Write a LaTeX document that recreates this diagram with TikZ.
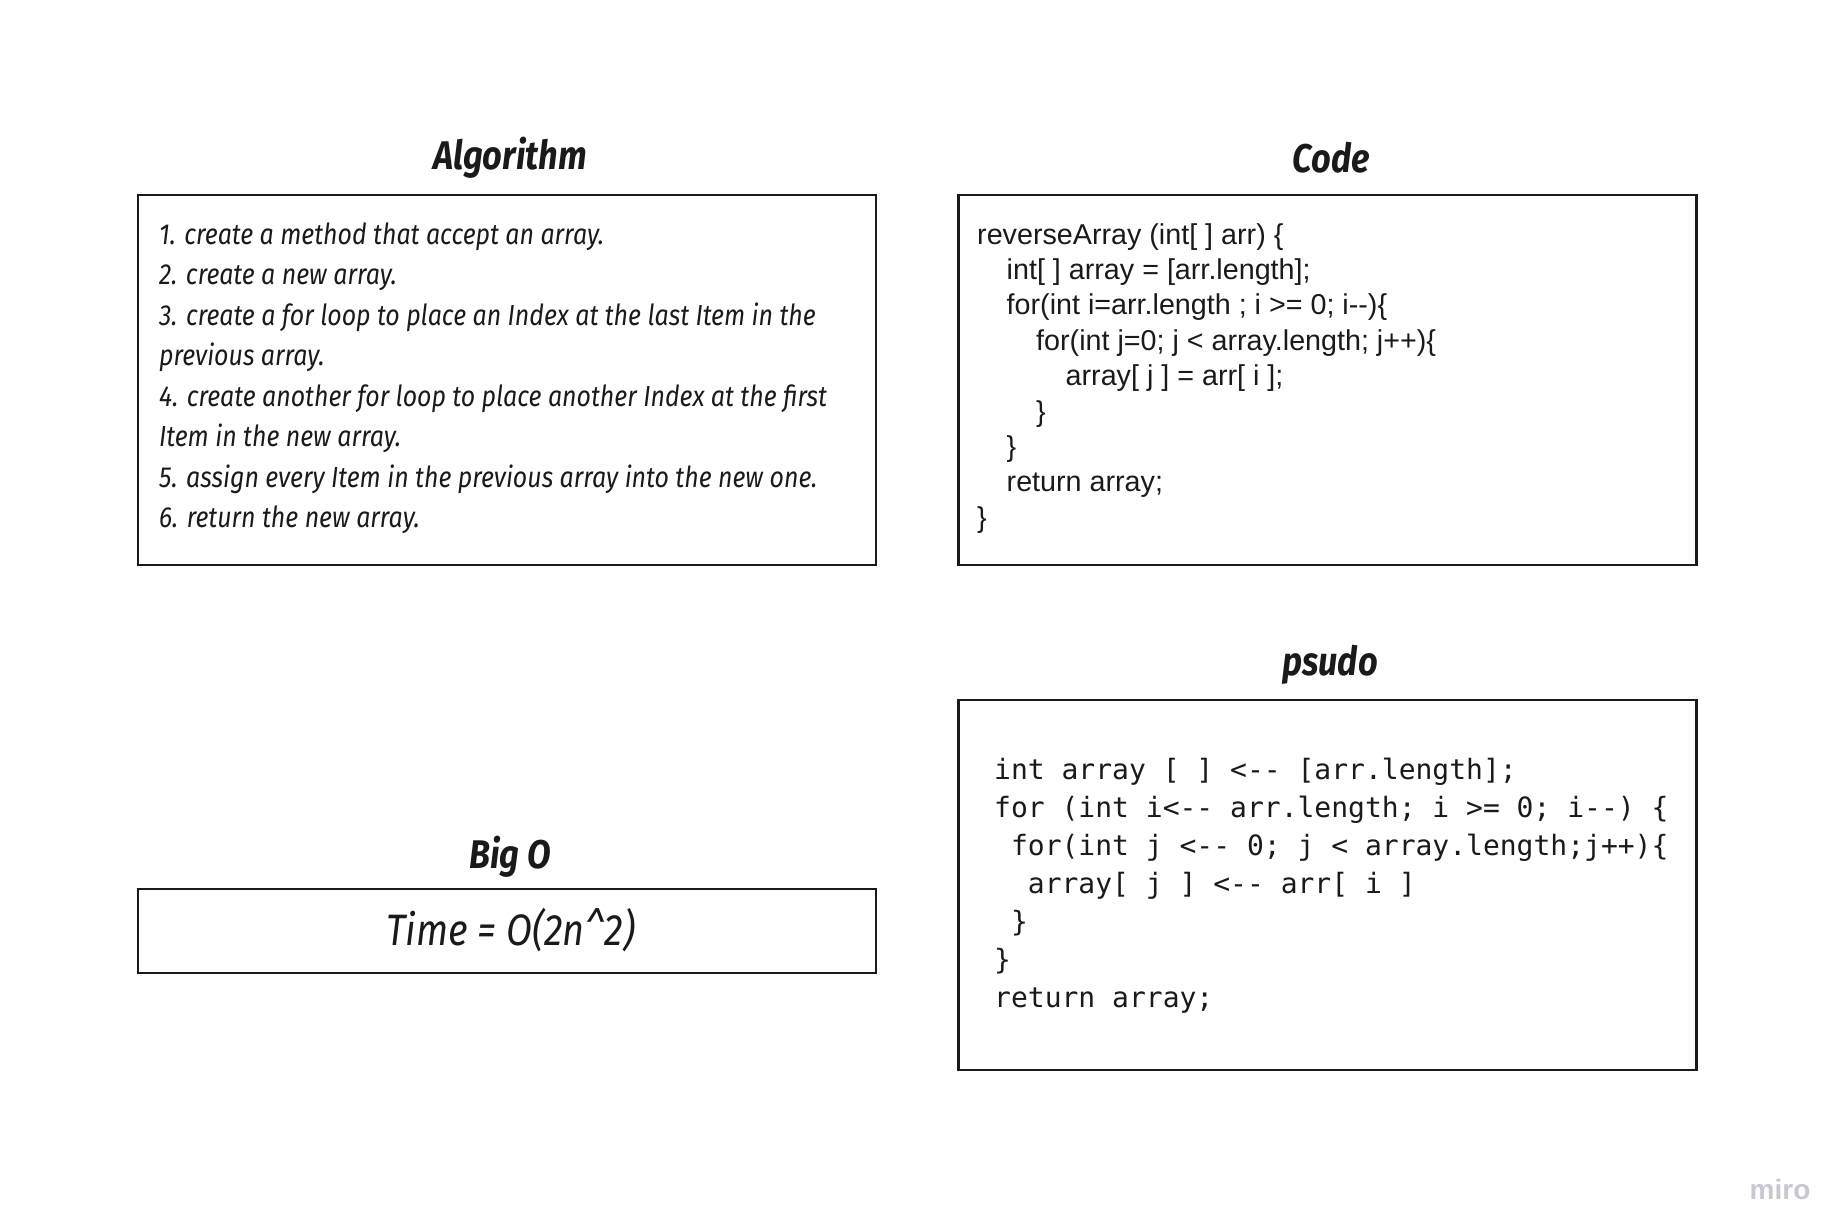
\documentclass[tikz,border=0pt]{standalone}
\usepackage{fontspec}
\usepackage{tikz}
\usetikzlibrary{positioning}
\setmainfont{Liberation Sans}
\newfontfamily\handfont[FakeStretch=0.86]{Fira Sans}
\newfontfamily\codefont{Liberation Sans}
\newfontfamily\monofont{DejaVu Sans Mono}
\definecolor{ink}{HTML}{1A1A1A}
\definecolor{mirogray}{HTML}{C8C8D2}
\tikzstyle{panel}=[draw=ink,line width=2.4pt,minimum width=738pt,inner sep=0pt]
\tikzstyle{heading}=[font=\handfont\itshape\bfseries\fontsize{40}{40}\selectfont,text=ink,anchor=base,inner sep=0pt]
\tikzstyle{algtext}=[font=\handfont\itshape\fontsize{29}{40.5}\selectfont,align=left,inner sep=0pt,text=ink,anchor=base west]
\tikzstyle{codetext}=[font=\codefont\fontsize{28.7}{35.4}\selectfont,align=left,inner sep=0pt,text=ink,anchor=base west]
\tikzstyle{pseudotext}=[font=\monofont\fontsize{28}{38}\selectfont,align=left,inner sep=0pt,text=ink,anchor=base west]
\newcommand{\ind}{\hspace*{29.5pt}}

\begin{document}
\begin{tikzpicture}[x=1pt,y=-1pt]
   \useasboundingbox (0,0) rectangle (1831,1228);
   \foreach \pos/\name/\h in {{(507,380)/algbox/370}, {(1327.5,380)/codebox/370}, {(1327.5,885)/psudobox/370}, {(507,931)/bigobox/84}}
        \node[panel,minimum height=\h pt] (\name) at \pos {};
   \foreach \pos/\name/\txt in {{(510,169)/algtitle/Algorithm}, {(1331,172)/codetitle/Code}, {(1330,675)/psudotitle/psudo}, {(510,868)/bigotitle/Big O}}
        \node[heading] (\name) at \pos {\txt};
   % multi-line texts are placed by the baseline of their last line
   \node[algtext] (algsteps) at (159,527.5) {1. create a method that accept an array.\\
        2. create a new array.\\
        3. create a for loop to place an Index at the last Item in the\\
        previous array.\\
        4. create another for loop to place another Index at the first\\
        Item in the new array.\\
        5. assign every Item in the previous array into the new one.\\
        6. return the new array.};
   \node[codetext] (code) at (977,527.2) {reverseArray (int[ ] arr) \{\\
        \ind int[ ] array = [arr.length];\\
        \ind for(int i=arr.length ; i >= 0; i-{}-)\{\\
        \ind\ind for(int j=0; j < array.length; j++)\{\\
        \ind\ind\ind array[ j ] = arr[ i ];\\
        \ind\ind \}\\
        \ind \}\\
        \ind return array;\\
        \}};
   \node[pseudotext] (pseudo) at (994,1007) {int array [ ] <-{}- [arr.length];\\
        for (int i<-{}- arr.length; i >= 0; i-{}-) \{\\
        ~for(int j <-{}- 0; j < array.length;j++)\{\\
        ~~array[ j ] <-{}- arr[ i ]\\
        ~\}\\
        \}\\
        return array;};
   \node[font=\handfont\itshape\fontsize{44}{44}\selectfont,text=ink,anchor=base] (time) at (511,945) {Time = O(2n\^{}2)};
   \node[font=\codefont\bfseries\fontsize{28}{28}\selectfont,text=mirogray,anchor=base] (miro) at (1780,1199) {miro};
\end{tikzpicture}
\end{document}
